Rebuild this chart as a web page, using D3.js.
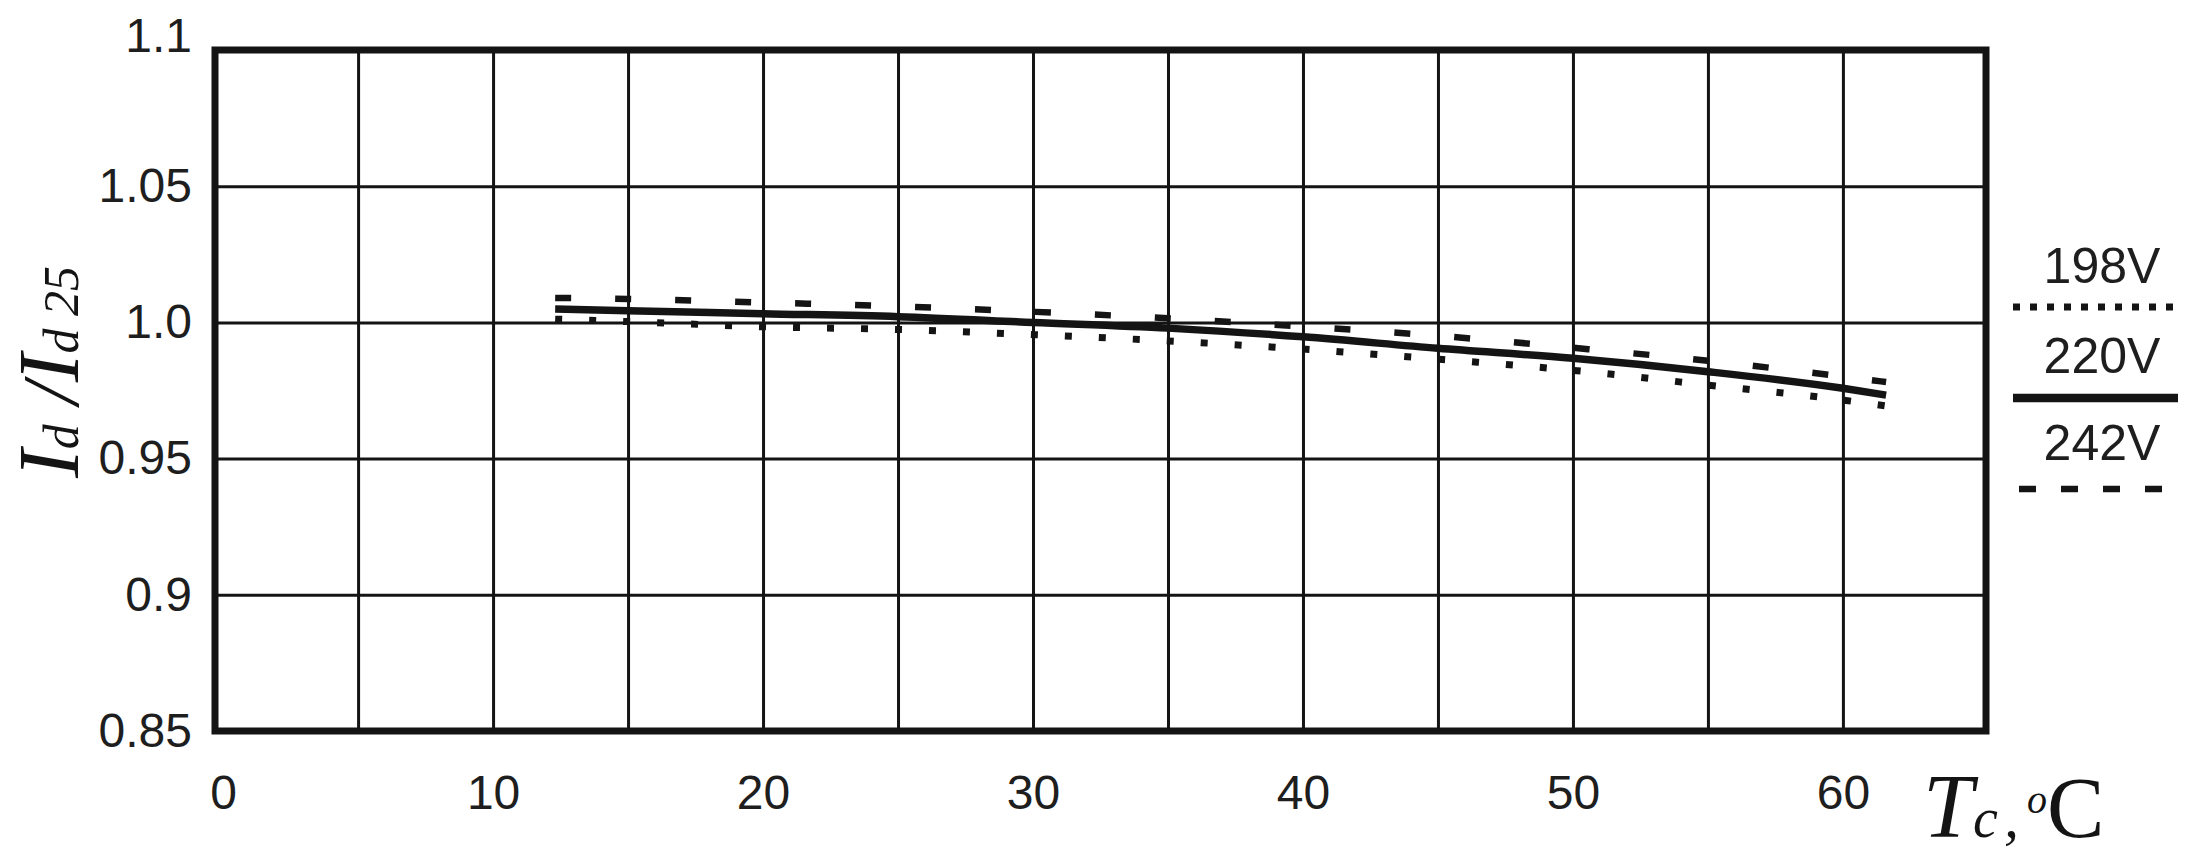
<!DOCTYPE html>
<html>
<head>
<meta charset="utf-8">
<script src="https://cdn.jsdelivr.net/npm/d3@7"></script>
<style>
  html, body { margin: 0; padding: 0; background: #ffffff; }
  svg { display: block; }
</style>
</head>
<body>
<svg id="chart"></svg>
<script>
// ---------------------------------------------------------------------------
// data (Tc in degrees C, Id / Id25)
// ---------------------------------------------------------------------------
const temps = [12.3, 15, 20, 25, 30, 35, 40, 45, 50, 55, 60, 61.6];
const ratio198 = [1.0012, 1.0003, 0.9984, 0.9974, 0.9955, 0.9932, 0.9902, 0.9865, 0.9824, 0.9770, 0.9715, 0.9693];
const ratio220 = [1.0049, 1.0043, 1.0032, 1.0021, 1.0000, 0.9979, 0.9947, 0.9905, 0.9868, 0.9819, 0.9758, 0.9733];
const ratio242 = [1.0090, 1.0086, 1.0073, 1.0059, 1.0039, 1.0015, 0.9985, 0.9951, 0.9907, 0.9859, 0.9801, 0.9781];

const seriesNames = ['198V', '220V', '242V'];
const xTicks = [0, 10, 20, 30, 40, 50, 60];
const xGrid = [5, 10, 15, 20, 25, 30, 35, 40, 45, 50, 55, 60];
const yTicks = [0.85, 0.9, 0.95, 1.0, 1.05, 1.1];
const yTickLabels = ['0.85', '0.9', '0.95', '1.0', '1.05', '1.1'];
const yGrid = [0.9, 0.95, 1.0, 1.05];

// ---------------------------------------------------------------------------
const width = 2204;
const height = 866;
const margin = { top: 50, right: 218, bottom: 135, left: 215 };
const innerW = width - margin.left - margin.right;
const innerH = height - margin.top - margin.bottom;

const ink = '#141414';
const sans = "'Liberation Sans', Arial, sans-serif";
const serif = "'Liberation Serif', 'Times New Roman', serif";

const lineStyles = {
  '198V': { width: 7, dash: '7,27', legendDash: '7,10' },
  '220V': { width: 7.5, dash: null, legendDash: null },
  '242V': { width: 6.5, dash: '16,44', legendDash: '17,25' },
};

const svg = d3.select('#chart').attr('width', width).attr('height', height);
svg.append('rect').attr('width', width).attr('height', height).attr('fill', '#ffffff');

const g = svg.append('g').attr('transform', `translate(${margin.left},${margin.top})`);

const x = d3.scaleLinear().domain([-0.3, 65.3]).range([0, innerW]);
const y = d3.scaleLinear().domain([0.85, 1.1]).range([innerH, 0]);

// grid
const xGridAxis = g
  .append('g')
  .attr('transform', `translate(0,${innerH})`)
  .call(d3.axisBottom(x).tickValues(xGrid).tickSize(-innerH).tickFormat(''));
const yGridAxis = g
  .append('g')
  .call(d3.axisLeft(y).tickValues(yGrid).tickSize(-innerW).tickFormat(''));

[xGridAxis, yGridAxis].forEach((a) => {
  a.select('.domain').remove();
  a.selectAll('line').attr('stroke', ink).attr('stroke-width', 3);
});

// tick labels
const xAxis = g
  .append('g')
  .attr('transform', `translate(0,${innerH})`)
  .call(d3.axisBottom(x).tickValues(xTicks).tickSize(0).tickPadding(44).tickFormat(d3.format('d')));
const yAxis = g
  .append('g')
  .call(
    d3
      .axisLeft(y)
      .tickValues(yTicks)
      .tickSize(0)
      .tickPadding(23)
      .tickFormat((d, i) => yTickLabels[i])
  );

[xAxis, yAxis].forEach((a) => {
  a.select('.domain').remove();
  a.selectAll('text')
    .style('font-family', sans)
    .style('font-size', '48px')
    .attr('fill', '#1e1e1e');
});

// top label sits a bit above the frame in the original
yAxis.selectAll('.tick')
  .filter((d) => d === 1.1)
  .select('text')
  .attr('y', -14);

// curves
const series = [ratio198, ratio220, ratio242];
const line = d3
  .line()
  .x((d) => x(d[0]))
  .y((d) => y(d[1]))
  .curve(d3.curveMonotoneX);

series.forEach((vals, i) => {
  const st = lineStyles[seriesNames[i]];
  g.append('path')
    .datum(temps.map((t, k) => [t, vals[k]]))
    .attr('d', line)
    .attr('fill', 'none')
    .attr('stroke', ink)
    .attr('stroke-width', st.width)
    .attr('stroke-linecap', 'butt')
    .attr('stroke-dasharray', st.dash);
});

// frame
g.append('rect')
  .attr('x', 0)
  .attr('y', 0)
  .attr('width', innerW)
  .attr('height', innerH)
  .attr('fill', 'none')
  .attr('stroke', ink)
  .attr('stroke-width', 7);

// y title: Id / Id 25
const yTitle = svg
  .append('text')
  .attr('transform', `translate(78,478) rotate(-90)`)
  .style('font-family', serif)
  .style('font-style', 'italic')
  .attr('fill', ink);
yTitle.append('tspan').style('font-size', '86px').text('I');
yTitle.append('tspan').style('font-size', '50px').text('d');
yTitle.append('tspan').style('font-size', '80px').text(' /');
yTitle.append('tspan').style('font-size', '86px').text('I');
yTitle.append('tspan').style('font-size', '50px').text('d 25');

// x title: Tc ,oC
const xTitle = svg
  .append('text')
  .attr('x', 1923)
  .attr('y', 837)
  .style('font-family', serif)
  .attr('fill', ink);
xTitle.append('tspan').style('font-size', '90px').style('font-style', 'italic').text('T');
xTitle.append('tspan').style('font-size', '56px').style('font-style', 'italic').text('c');
xTitle.append('tspan').attr('dx', 6).style('font-size', '60px').style('font-style', 'italic').text(',');
xTitle.append('tspan').attr('dx', 8).attr('dy', -24).style('font-size', '40px').style('font-style', 'italic').text('o');
xTitle.append('tspan').attr('dy', 24).style('font-size', '86px').text('C');

// legend
const legendX = margin.left + innerW + 116;
const legendTextY = [283, 373, 460];
const legendLineY = [307, 398, 489];
const legendSpan = [[2013, 2177], [2013, 2178], [2019, 2165]];

seriesNames.forEach((name, i) => {
  const st = lineStyles[name];
  svg.append('text')
    .attr('x', legendX)
    .attr('y', legendTextY[i])
    .attr('text-anchor', 'middle')
    .style('font-family', sans)
    .style('font-size', '50px')
    .attr('fill', '#1e1e1e')
    .text(name);
  svg.append('line')
    .attr('x1', legendSpan[i][0])
    .attr('x2', legendSpan[i][1])
    .attr('y1', legendLineY[i])
    .attr('y2', legendLineY[i])
    .attr('stroke', ink)
    .attr('stroke-width', name === '220V' ? 8.5 : st.width)
    .attr('stroke-dasharray', st.legendDash);
});
</script>
</body>
</html>
